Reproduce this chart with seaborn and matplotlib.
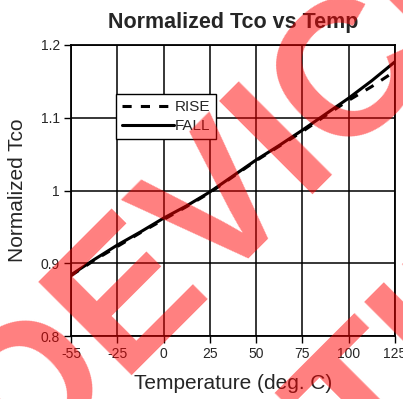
import numpy as np
import pandas as pd
import seaborn as sns
import matplotlib
matplotlib.use("Agg")
import matplotlib.pyplot as plt

# tick labels along the temperature axis (evenly spaced on the chart)
tick_temps = [-55, -25, 0, 25, 50, 75, 100, 125]
y_ticks = [0.8, 0.9, 1.0, 1.1, 1.2]

temps = [-55, -40, -25, -12.5, 0, 12.5, 25, 37.5, 50, 62.5, 75, 87.5, 100, 112.5, 125]
rise = [0.883, 0.904, 0.923, 0.942, 0.960, 0.978, 0.997, 1.019, 1.041, 1.061,
        1.081, 1.103, 1.124, 1.143, 1.164]
fall = [0.884, 0.905, 0.925, 0.943, 0.962, 0.979, 0.998, 1.020, 1.042, 1.062,
        1.083, 1.105, 1.127, 1.151, 1.177]

sns.set_style("white")
plt.rcParams["font.family"] = ["Liberation Sans", "DejaVu Sans"]

pos = np.interp(temps, tick_temps, np.arange(len(tick_temps)))
df = pd.DataFrame({"pos": np.concatenate([pos, pos]),
                   "tco": rise + fall,
                   "series": ["RISE"] * len(temps) + ["FALL"] * len(temps)})

fig = plt.figure(figsize=(4.03, 3.99), dpi=100)
ax = fig.add_axes([71 / 403, 1 - 336 / 399, 324 / 403, 291 / 399])

sns.lineplot(data=df[df.series == "RISE"], x="pos", y="tco", color="black",
             linewidth=2.2, label="RISE", ax=ax)
sns.lineplot(data=df[df.series == "FALL"], x="pos", y="tco", color="black",
             linewidth=2.2, label="FALL", ax=ax)
ax.lines[0].set_dashes((3, 3))

ax.set_xlim(0, len(tick_temps) - 1)
ax.set_ylim(0.8, 1.2)
ax.set_xticks(np.arange(len(tick_temps)))
ax.set_xticklabels([str(t) for t in tick_temps])
ax.set_yticks(y_ticks)
ax.set_yticklabels(["0.8", "0.9", "1", "1.1", "1.2"])
ax.grid(True, color="black", linewidth=1.1)
for s in ax.spines.values():
    s.set_color("black")
    s.set_linewidth(1.3)
ax.tick_params(direction="out", length=5, width=1, color="black",
               labelsize=10, pad=3, bottom=True, left=True)

ax.set_xlabel("Temperature (deg. C)", fontsize=15, labelpad=9)
ax.set_ylabel("Normalized Tco", fontsize=15, labelpad=10)
ax.set_title("Normalized Tco vs Temp", fontsize=15.5, fontweight="bold", pad=12)

leg = ax.legend(loc="upper left", bbox_to_anchor=(0.139, 0.832), borderaxespad=0,
                fontsize=11, handlelength=3.4, handletextpad=0.05,
                labelspacing=0.35, borderpad=0.4, fancybox=False,
                framealpha=1, edgecolor="black")
leg.get_frame().set_linewidth(1)

# red watermark stamped over the page
fig.text(0.680, 0.449, "DEVICE", fontsize=138, fontweight="bold", color="red",
         alpha=0.5, rotation=45, rotation_mode="anchor", ha="center",
         va="baseline", zorder=20)
fig.text(0.873, -0.226, "DISCONTINUED", fontsize=138, fontweight="bold",
         color="red", alpha=0.5, rotation=45, rotation_mode="anchor",
         ha="center", va="baseline", zorder=20)

fig.savefig("out.png", dpi=100)
